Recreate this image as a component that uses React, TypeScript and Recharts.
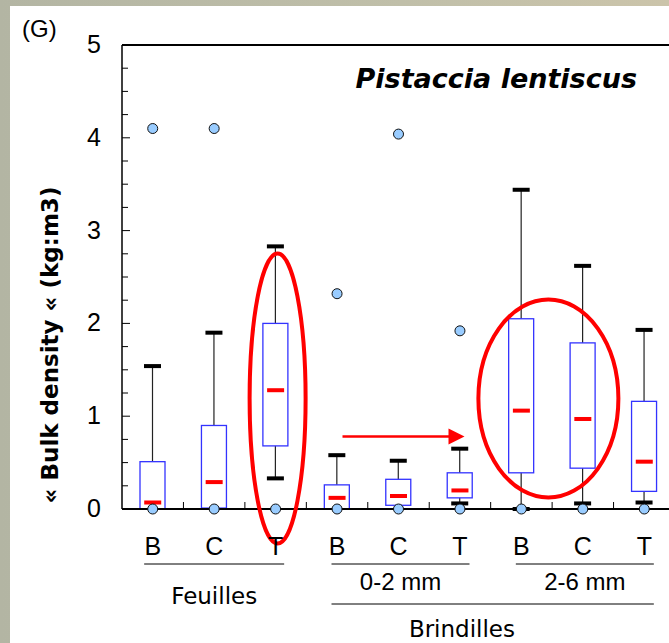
import { ComposedChart, Bar, Scatter, XAxis, YAxis, ReferenceLine, ReferenceDot } from "recharts";

// categories (unique keys) and the letters printed under them
const catKeys = ["F-B", "F-C", "F-T", "P-B", "P-C", "P-T", "G-B", "G-C", "G-T"];
const catLetters = ["B", "C", "T", "B", "C", "T", "B", "C", "T"];

// box plot statistics
const whiskerLo = [0, 0.01, 0.33, 0, 0.04, 0.06, 0, 0.06, 0.07];
const q1 = [0, 0.01, 0.68, 0, 0.04, 0.12, 0.39, 0.44, 0.19];
const medians = [0.07, 0.29, 1.28, 0.12, 0.14, 0.2, 1.06, 0.97, 0.51];
const q3 = [0.51, 0.9, 2.0, 0.26, 0.32, 0.39, 2.05, 1.79, 1.16];
const whiskerHi = [1.54, 1.9, 2.83, 0.58, 0.52, 0.65, 3.44, 2.62, 1.93];
const minMarks = [0, 0, 0, 0, 0, 0, 0, 0, 0];

const outlierCats = ["F-B", "F-C", "P-B", "P-C", "P-T"];
const outlierValues = [4.1, 4.1, 2.32, 4.04, 1.92];

const yTicks = [0, 0.25, 0.5, 0.75, 1, 1.25, 1.5, 1.75, 2, 2.25, 2.5, 2.75, 3, 3.25, 3.5, 3.75, 4, 4.25, 4.5, 4.75, 5];

const rows = catKeys.map((cat, i) => ({
  cat,
  range: [whiskerLo[i], whiskerHi[i]],
  lo: whiskerLo[i],
  q1: q1[i],
  median: medians[i],
  q3: q3[i],
  hi: whiskerHi[i],
  base: minMarks[i],
}));

const outliers = outlierCats.map((cat, i) => ({ cat, val: outlierValues[i] }));

const ARIAL = "'Liberation Sans', Arial, sans-serif";
const COMIC = "'DejaVu Sans', sans-serif";

function BoxShape(props: any) {
  const { x, y, width, height, payload } = props;
  const top = Math.min(y, y + height);
  const h = Math.abs(height);
  const span = payload.hi - payload.lo || 1;
  const py = (v: number) => top + ((payload.hi - v) / span) * h;
  const cx = x + width / 2;
  return (
    <g>
      <line x1={cx} x2={cx} y1={py(payload.hi)} y2={py(payload.lo)} stroke="#222" strokeWidth={1.2} />
      <rect x={cx - 8.5} y={py(payload.hi) - 2} width={17} height={4} fill="#000" />
      {payload.lo < payload.q1 && <rect x={cx - 8.5} y={py(payload.lo) - 2} width={17} height={4} fill="#000" />}
      <rect
        x={x}
        y={py(payload.q3)}
        width={width}
        height={Math.max(py(payload.q1) - py(payload.q3), 0.5)}
        fill="#fff"
        stroke="#3333ff"
        strokeWidth={1.3}
      />
    </g>
  );
}

function XTick(props: any) {
  const { x, y, payload } = props;
  const i = catKeys.indexOf(payload.value);
  const half = payload.offset ?? 30.7;
  return (
    <g>
      <line x1={x + half} x2={x + half} y1={y} y2={y - 7} stroke="#000" />
      <text x={x} y={y + 46} textAnchor="middle" fontSize={25} fontFamily={ARIAL} fill="#000">
        {catLetters[i]}
      </text>
      {i === 1 && (
        <>
          <line x1={x - 70} x2={x + 70} y1={y + 55} y2={y + 55} stroke="#000" />
          <text x={x} y={y + 95} textAnchor="middle" fontSize={23} fontFamily={COMIC} fill="#000">
            Feuilles
          </text>
        </>
      )}
      {(i === 4 || i === 7) && (
        <>
          <line x1={x - 67} x2={x + 71} y1={y + 55} y2={y + 55} stroke="#000" />
          <text x={x + 2} y={y + 81} textAnchor="middle" fontSize={24} fontFamily={ARIAL} fill="#000">
            {i === 4 ? "0-2 mm" : "2-6 mm"}
          </text>
        </>
      )}
      {i === 4 && <line x1={x - 67} x2={x + 6 * half + 71} y1={y + 95} y2={y + 95} stroke="#000" />}
      {i === 5 && (
        <text x={x + 2} y={y + 128} textAnchor="middle" fontSize={23} fontFamily={COMIC} fill="#000">
          Brindilles
        </text>
      )}
    </g>
  );
}

function YTick(props: any) {
  const { x, y, payload } = props;
  const major = payload.value % 1 === 0;
  return (
    <g>
      <line x1={x} x2={x + (major ? 8 : 6)} y1={y} y2={y} stroke="#000" />
      {major && (
        <text x={x - 21} y={y + 8} textAnchor="end" fontSize={25} fontFamily={ARIAL} fill="#000">
          {payload.value}
        </text>
      )}
    </g>
  );
}

export default function App() {
  return (
    <div
      style={{
        position: "absolute",
        left: 0,
        top: 0,
        width: 669,
        height: 643,
        overflow: "hidden",
        background: "linear-gradient(90deg, #b3b5a3 0%, #c0bfa9 60%, #cbc4aa 100%)",
      }}
    >
      <div style={{ position: "absolute", left: 10, top: 6, width: 659, height: 637, background: "#fff" }} />
      <div style={{ position: "absolute", left: 0, top: 0 }}>
        <ComposedChart width={680} height={643} data={rows} margin={{ top: 45, right: 5, bottom: 0, left: 62 }}>
          <XAxis
            dataKey="cat"
            type="category"
            allowDuplicatedCategory={false}
            interval={0}
            height={134}
            tickLine={false}
            tickSize={0}
            tickMargin={0}
            axisLine={{ stroke: "#000", strokeWidth: 2 }}
            tick={<XTick />}
          />
          <YAxis
            type="number"
            domain={[0, 5]}
            ticks={yTicks}
            interval={0}
            width={60}
            tickLine={false}
            tickSize={0}
            tickMargin={0}
            axisLine={{ stroke: "#000", strokeWidth: 1.5 }}
            tick={<YTick />}
          />
          <ReferenceLine y={5} stroke="#000" strokeWidth={2} />
          <Bar dataKey="range" barSize={25} shape={(p: any) => <BoxShape {...p} />} isAnimationActive={false} />
          <Scatter
            dataKey="median"
            isAnimationActive={false}
            shape={(p: any) => <rect x={p.cx - 8.5} y={p.cy - 2} width={17} height={4} fill="#ff0000" />}
          />
          <Scatter
            dataKey="base"
            isAnimationActive={false}
            shape={(p: any) => <circle cx={p.cx} cy={p.cy} r={5} fill="#99ccff" stroke="#111" strokeWidth={1} />}
          />
          <Scatter
            data={outliers}
            dataKey="val"
            isAnimationActive={false}
            shape={(p: any) => <circle cx={p.cx} cy={p.cy} r={5} fill="#99ccff" stroke="#111" strokeWidth={1} />}
          />
          <ReferenceDot
            x="F-T"
            y={1.19}
            r={1}
            ifOverflow="visible"
            shape={(p: any) => (
              <ellipse cx={p.cx + 2} cy={p.cy} rx={28} ry={145} fill="none" stroke="#ff0000" strokeWidth={4} />
            )}
          />
          <ReferenceDot
            x="G-B"
            y={1.19}
            r={1}
            ifOverflow="visible"
            shape={(p: any) => (
              <ellipse cx={p.cx + 27} cy={p.cy} rx={70} ry={99} fill="none" stroke="#ff0000" strokeWidth={4} />
            )}
          />
          <ReferenceDot
            x="P-C"
            y={0.78}
            r={1}
            ifOverflow="visible"
            shape={(p: any) => (
              <g>
                <line x1={p.cx - 56} x2={p.cx + 52} y1={p.cy} y2={p.cy} stroke="#ff0000" strokeWidth={2.5} />
                <polygon
                  points={`${p.cx + 50},${p.cy - 8} ${p.cx + 66},${p.cy} ${p.cx + 50},${p.cy + 8}`}
                  fill="#ff0000"
                />
              </g>
            )}
          />
        </ComposedChart>
      </div>
      <svg width={669} height={643} style={{ position: "absolute", left: 0, top: 0, pointerEvents: "none" }}>
        <text x={22} y={37} fontSize={24} fontFamily={ARIAL} fill="#000">
          (G)
        </text>
        <text
          x={637}
          y={88}
          textAnchor="end"
          fontSize={27}
          fontWeight="bold"
          fontStyle="italic"
          fontFamily={COMIC}
          fill="#000"
        >
          Pistaccia lentiscus
        </text>
        <text
          x={58}
          y={345}
          transform="rotate(-90 58 345)"
          textAnchor="middle"
          fontSize={23}
          fontWeight="bold"
          fontFamily={COMIC}
          fill="#000"
        >
          « Bulk density « (kg:m3)
        </text>
      </svg>
    </div>
  );
}
